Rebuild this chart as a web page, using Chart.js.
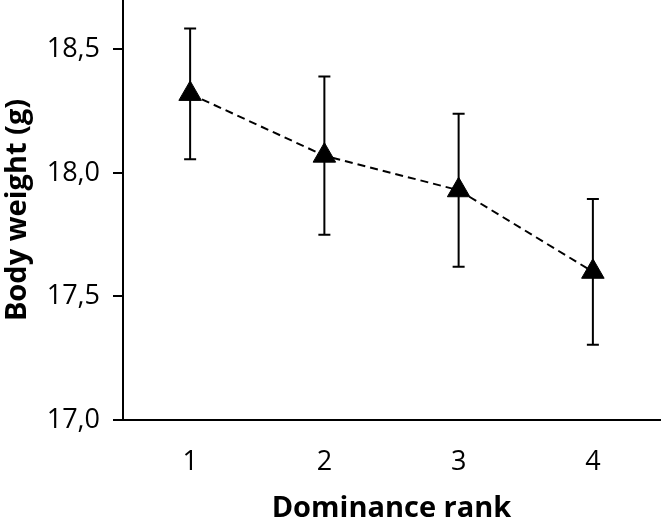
<!DOCTYPE html>
<html>
<head>
<meta charset="utf-8">
<script src="https://cdn.jsdelivr.net/npm/chart.js@4.4.1/dist/chart.umd.min.js"></script>
<style>
  html, body { margin: 0; padding: 0; background: #fff; }
  canvas { display: block; }
</style>
</head>
<body>
<canvas id="weightChart" width="661" height="523"></canvas>
<script>
// --- Data ---
const ranks = [1, 2, 3, 4];
const xTickLabels = ['1', '2', '3', '4'];
const meanWeight = [18.32, 18.07, 17.93, 17.60];
const errWeight = [0.265, 0.32, 0.31, 0.295];
const yTicks = [17.0, 17.5, 18.0, 18.5];
const yTickLabels = ['17,0', '17,5', '18,0', '18,5'];

// --- Error bars, drawn through the chart scales ---
const errorBars = {
    id: 'errorBars',
    beforeDatasetsDraw(chart) {
        const ctx = chart.ctx;
        const xs = chart.scales.x;
        const ys = chart.scales.y;
        const cap = 6;
        ctx.save();
        ctx.strokeStyle = '#000';
        ctx.lineWidth = 2;
        ranks.forEach((r, i) => {
            const x = xs.getPixelForValue(r);
            const top = ys.getPixelForValue(meanWeight[i] + errWeight[i]);
            const bot = ys.getPixelForValue(meanWeight[i] - errWeight[i]);
            ctx.beginPath();
            ctx.moveTo(x, top); ctx.lineTo(x, bot);
            ctx.moveTo(x - cap, top); ctx.lineTo(x + cap, top);
            ctx.moveTo(x - cap, bot); ctx.lineTo(x + cap, bot);
            ctx.stroke();
        });
        ctx.restore();
    }
};

const tickFont = { family: "'Open Sans', sans-serif", size: 27 };
const titleFont = { family: "'Open Sans', sans-serif", size: 29, weight: 'bold', lineHeight: 1 };

new Chart(document.getElementById('weightChart').getContext('2d'), {
    type: 'line',
    data: {
        datasets: [{
            data: ranks.map((r, i) => ({ x: r, y: meanWeight[i] })),
            borderColor: '#000',
            borderWidth: 2,
            borderDash: [8, 5],
            pointStyle: 'triangle',
            pointRadius: 13,
            pointBackgroundColor: '#000',
            pointBorderColor: '#000',
            pointBorderWidth: 1,
            clip: false
        }]
    },
    options: {
        responsive: false,
        animation: false,
        devicePixelRatio: 1,
        layout: { autoPadding: false, padding: { left: 0, right: 1, top: 0, bottom: 0 } },
        plugins: { legend: { display: false }, tooltip: { enabled: false } },
        scales: {
            x: {
                type: 'linear',
                min: 0.5,
                max: 4.5,
                afterBuildTicks: s => { s.ticks = ranks.map(v => ({ value: v })); },
                afterFit: s => {
                    s.height = 103;
                    s.paddingLeft = 0; s.paddingRight = 0;
                },
                ticks: {
                    font: tickFont,
                    color: '#000',
                    padding: 26,
                    maxRotation: 0,
                    callback: (v, i) => xTickLabels[i]
                },
                grid: { display: false, drawTicks: false },
                border: { display: true, color: '#000', width: 2 },
                title: {
                    display: true,
                    text: 'Dominance rank',
                    color: '#000',
                    font: titleFont,
                    padding: { top: 0, bottom: 0 }
                }
            },
            y: {
                min: 17.0,
                max: 18.7,
                afterBuildTicks: s => { s.ticks = yTicks.map(v => ({ value: v })); },
                afterFit: s => {
                    s.width = 123;
                    s.paddingTop = 0; s.paddingBottom = 0;
                },
                ticks: {
                    font: tickFont,
                    color: '#000',
                    padding: 13,
                    callback: (v, i) => yTickLabels[i]
                },
                grid: {
                    display: true,
                    drawOnChartArea: false,
                    drawTicks: true,
                    tickLength: 10,
                    color: '#000',
                    lineWidth: 2
                },
                border: { display: true, color: '#000', width: 2 },
                title: {
                    display: true,
                    text: 'Body weight (g)',
                    color: '#000',
                    font: titleFont,
                    padding: { top: 3, bottom: 0 }
                }
            }
        }
    },
    plugins: [errorBars]
});
</script>
</body>
</html>
